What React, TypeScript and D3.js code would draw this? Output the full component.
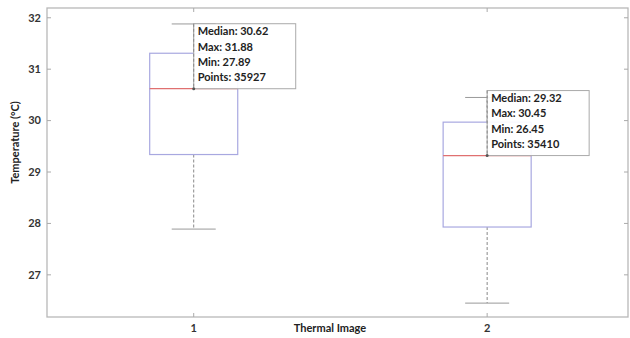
import React from 'react';
import * as d3 from 'd3';

const W = 630;
const H = 338;

const categories = [1, 2];
const q1 = [29.34, 27.93];
const q3 = [31.31, 29.97];
const medians = [30.62, 29.32];
const maxs = [31.88, 30.45];
const mins = [27.89, 26.45];
const points = [35927, 35410];
const yTicks = [27, 28, 29, 30, 31, 32];

const font = 'Lato, "Open Sans", sans-serif';

const x = d3.scaleLinear().domain([0.5, 2.48]).range([47, 628]);
const y = d3.scaleLinear().domain([26.18, 32.19]).range([317, 8]);

const boxW = 0.3;
const capW = 0.15;

export default function App() {
  const [x0, x1] = x.range();
  const [yb, yt] = y.range();
  const bw = x(1 + boxW) - x(1);
  const cw = x(1 + capW) - x(1);

  return (
    <svg
      width={W}
      height={H}
      style={{ position: 'absolute', left: 0, top: 0, background: '#fff' }}
      fontFamily={font}
    >
      {/* frame */}
      <rect x={x0} y={yt} width={x1 - x0} height={yb - yt} fill="none" stroke="#b8b8b8" strokeWidth={1.3} />
      {yTicks.map((t) => (
        <g key={t}>
          <line x1={x0} x2={x0 + 4} y1={y(t)} y2={y(t)} stroke="#aaa" />
          <line x1={x1} x2={x1 - 4} y1={y(t)} y2={y(t)} stroke="#aaa" />
          <text x={x0 - 6} y={y(t)} dy="0.35em" textAnchor="end" fontSize={11} fontWeight="bold" fill="#333">
            {t}
          </text>
        </g>
      ))}
      {categories.map((c) => (
        <g key={c}>
          <line x1={x(c)} x2={x(c)} y1={yb} y2={yb - 4} stroke="#aaa" />
          <line x1={x(c)} x2={x(c)} y1={yt} y2={yt + 4} stroke="#aaa" />
          <text x={x(c)} y={yb + 11} dy="0.35em" textAnchor="middle" fontSize={11} fontWeight="bold" fill="#333">
            {c}
          </text>
        </g>
      ))}

      {/* boxes */}
      {categories.map((c, i) => {
        const cx = x(c);
        return (
          <g key={'b' + c}>
            <line x1={cx} x2={cx} y1={y(q3[i])} y2={y(maxs[i])} stroke="#888" strokeDasharray="3,2" />
            <line x1={cx} x2={cx} y1={y(q1[i])} y2={y(mins[i])} stroke="#888" strokeDasharray="3,2" />
            <line x1={cx - cw / 2} x2={cx + cw / 2} y1={y(maxs[i])} y2={y(maxs[i])} stroke="#999" />
            <line x1={cx - cw / 2} x2={cx + cw / 2} y1={y(mins[i])} y2={y(mins[i])} stroke="#999" />
            <rect
              x={cx - bw / 2}
              y={y(q3[i])}
              width={bw}
              height={y(q1[i]) - y(q3[i])}
              fill="none"
              stroke="#a8a8e0"
              strokeWidth={1.2}
            />
            <line x1={cx - bw / 2} x2={cx + bw / 2} y1={y(medians[i])} y2={y(medians[i])} stroke="#e07070" strokeWidth={1.2} />
          </g>
        );
      })}

      {/* data tips */}
      {categories.map((c, i) => {
        const tx = x(c);
        const ty = y(medians[i]) - 65;
        const lines = [
          `Median: ${medians[i].toFixed(2)}`,
          `Max: ${maxs[i].toFixed(2)}`,
          `Min: ${mins[i].toFixed(2)}`,
          `Points: ${points[i]}`,
        ];
        return (
          <g key={'t' + c}>
            <rect x={tx} y={ty} width={102} height={65} fill="#fff" fillOpacity={0.92} stroke="#aaa" />
            <line x1={tx} x2={tx} y1={ty} y2={ty + 65} stroke="#888" strokeDasharray="3,2" />
            <circle cx={tx} cy={y(medians[i])} r={1.5} fill="#555" />
            {lines.map((l, j) => (
              <text key={j} x={tx + 4} y={ty + 11.5 + j * 15.3} fontSize={11} fontWeight="bold" fill="#222">
                {l}
              </text>
            ))}
          </g>
        );
      })}

      {/* axis titles */}
      <text x={330} y={yb + 11} dy="0.35em" textAnchor="middle" fontSize={11} fontWeight="bold" fill="#222">
        Thermal Image
      </text>
      <text
        transform={`translate(15,${(yt + yb) / 2 - 20}) rotate(-90)`}
        dy="0.35em"
        textAnchor="middle"
        fontSize={11}
        fontWeight="bold"
        fill="#222"
      >
        Temperature (°C)
      </text>
    </svg>
  );
}
